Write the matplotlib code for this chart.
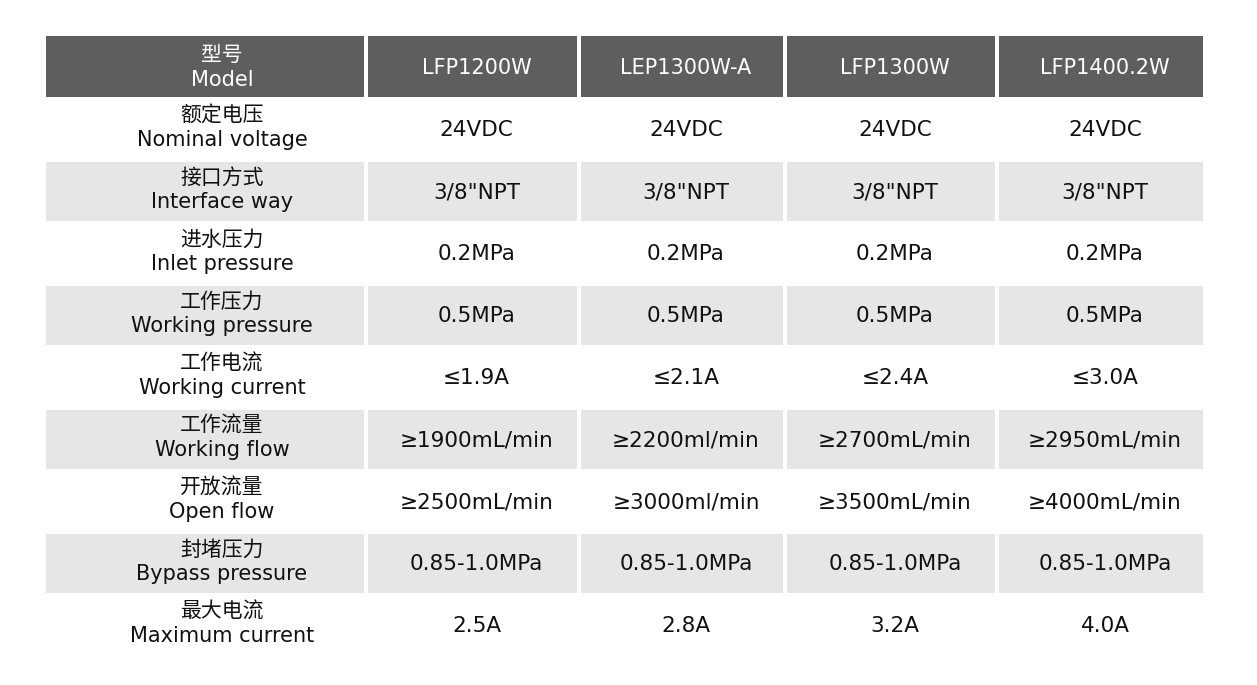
import matplotlib
matplotlib.use("Agg")
import matplotlib.pyplot as plt
from matplotlib.patches import Rectangle

plt.rcParams['font.family'] = ['DejaVu Sans', 'Noto Sans CJK SC']

models = ["LFP1200W", "LEP1300W-A", "LFP1300W", "LFP1400.2W"]
row_cn = ["额定电压", "接口方式", "进水压力", "工作压力", "工作电流",
          "工作流量", "开放流量", "封堵压力", "最大电流"]
row_en = ["Nominal voltage", "Interface way", "Inlet pressure", "Working pressure",
          "Working current", "Working flow", "Open flow", "Bypass pressure",
          "Maximum current"]
values = [
    ["24VDC", "24VDC", "24VDC", "24VDC"],
    ['3/8"NPT', '3/8"NPT', '3/8"NPT', '3/8"NPT'],
    ["0.2MPa", "0.2MPa", "0.2MPa", "0.2MPa"],
    ["0.5MPa", "0.5MPa", "0.5MPa", "0.5MPa"],
    ["≤1.9A", "≤2.1A", "≤2.4A", "≤3.0A"],
    ["≥1900mL/min", "≥2200ml/min", "≥2700mL/min", "≥2950mL/min"],
    ["≥2500mL/min", "≥3000ml/min", "≥3500mL/min", "≥4000mL/min"],
    ["0.85-1.0MPa", "0.85-1.0MPa", "0.85-1.0MPa", "0.85-1.0MPa"],
    ["2.5A", "2.8A", "3.2A", "4.0A"],
]

# column edges (px) and row edges
cols = [(46, 364), (368, 577), (581, 783), (787, 995), (999, 1203)]
header = (36, 97)
row_top, row_h = 99, 62

fig = plt.figure(figsize=(12.57, 6.85), dpi=100)
ax = fig.add_axes([0, 0, 1, 1])
ax.set_xlim(0, 1257)
ax.set_ylim(685, 0)
ax.axis('off')

# header
for j, (x0, x1) in enumerate(cols):
    ax.add_patch(Rectangle((x0, header[0]), x1 - x0, header[1] - header[0],
                           color='#5e5e5e', lw=0))
    xc = (x0 + x1) / 2
    if j == 0:
        ax.text(222, 55, "型号", color='white', fontsize=15, ha='center', va='center')
        ax.text(222, 80, "Model", color='white', fontsize=15, ha='center', va='center')
    else:
        ax.text(xc + 4, 68, models[j - 1], color='white', fontsize=15,
                ha='center', va='center')

for i in range(len(row_cn)):
    y0 = row_top + i * row_h
    gray = i % 2 == 1
    for j, (x0, x1) in enumerate(cols):
        if gray:
            ax.add_patch(Rectangle((x0, y0 + 1), x1 - x0, row_h - 3,
                                   color='#e6e6e6', lw=0))
        xc = (x0 + x1) / 2
        if j == 0:
            ax.text(222, y0 + 17, row_cn[i], fontsize=15, ha='center', va='center', color='#111111')
            ax.text(222, y0 + 41, row_en[i], fontsize=15, ha='center', va='center', color='#111111')
        else:
            ax.text(xc + 4, y0 + 31, values[i][j - 1], fontsize=15.5, ha='center',
                    va='center', color='#111111')

fig.savefig("out.png", dpi=100)
